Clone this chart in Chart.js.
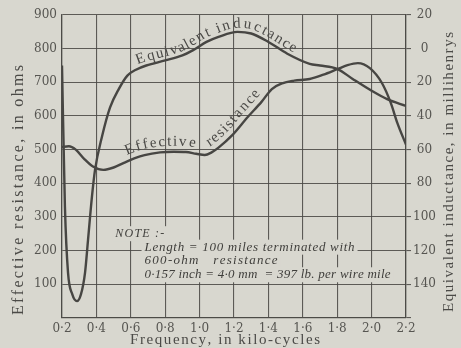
<!DOCTYPE html>
<html>
<head>
<meta charset="utf-8">
<script src="https://cdn.jsdelivr.net/npm/chart.js@4.4.1/dist/chart.umd.min.js"></script>
<style>
  html, body { margin: 0; padding: 0; background: #d8d7cf; }
  #wrap { width: 461px; height: 348px; }
  canvas { display: block; }
</style>
</head>
<body>
<div id="wrap"><canvas id="chart" width="461" height="348"></canvas></div>
<script>
// Frequency axis (kilo-cycles)
const freqTicks  = [0.2, 0.4, 0.6, 0.8, 1.0, 1.2, 1.4, 1.6, 1.8, 2.0, 2.2];
const freqLabels = ['0·2', '0·4', '0·6', '0·8', '1·0', '1·2', '1·4', '1·6', '1·8', '2·0', '2·2'];

// Left axis: effective resistance, ohms
const ohmTicks = [0, 100, 200, 300, 400, 500, 600, 700, 800, 900];
// Right axis: equivalent inductance, millihenrys
const mhTicks = [-160, -140, -120, -100, -80, -60, -40, -20, 0, 20];

// Effective resistance curve
const resistanceFreq = [0.2, 0.24, 0.28, 0.33, 0.38, 0.44, 0.5, 0.56, 0.62, 0.68, 0.77, 0.85, 0.92, 0.98, 1.03, 1.07, 1.11, 1.19, 1.28, 1.36, 1.42, 1.48, 1.55, 1.64, 1.72, 1.80, 1.86, 1.92, 1.99, 2.06, 2.11, 2.15, 2.2];
const resistanceOhms = [508, 510, 500, 472, 450, 440, 447, 461, 474, 484, 492, 494, 493, 488, 484, 492, 506, 543, 597, 642, 680, 697, 705, 710, 723, 739, 751, 757, 742, 698, 641, 579, 515];

// Equivalent inductance curve
const inductanceFreq = [0.2, 0.217, 0.235, 0.26, 0.287, 0.31, 0.334, 0.351, 0.374, 0.392, 0.433, 0.479, 0.53, 0.58, 0.63, 0.69, 0.8, 0.9, 0.96, 1.04, 1.11, 1.22, 1.3, 1.4, 1.51, 1.64, 1.70, 1.80, 1.89, 2.0, 2.09, 2.2];
const inductanceMH   = [-10, -94, -133, -146, -150, -146, -133, -114, -88, -72, -52, -35, -24, -16, -12.5, -10, -7, -4, -1, 4, 7, 10, 9, 4, -3, -9, -10, -12, -18, -25, -30, -34];

const noteLines = [
  'NOTE :-',
  'Length = 100 miles terminated with',
  '600-ohm   resistance',
  '0·157 inch = 4·0 mm  = 397 lb. per wire mile'
];

const paper = '#d8d7cf';
const ink = '#474643';
const gridInk = 'rgba(74,73,69,0.88)';
const labelInk = '#565551';
const serif = '"Liberation Serif", "DejaVu Serif", serif';

// Draw a string character by character, spreading it to a given width
function spacedText(ctx, text, x, y, width) {
  const chars = [...text];
  const w = chars.map(c => ctx.measureText(c).width);
  const total = w.reduce((a, b) => a + b, 0);
  const extra = chars.length > 1 ? (width - total) / (chars.length - 1) : 0;
  ctx.textAlign = 'left';
  let cx = x;
  chars.forEach((c, i) => { ctx.fillText(c, cx, y); cx += w[i] + extra; });
}

// Sample the drawn bezier path of a dataset into a dense polyline with arc length
function samplePath(meta) {
  const pts = meta.data;
  const out = [];
  for (let i = 0; i < pts.length - 1; i++) {
    const a = pts[i], b = pts[i + 1];
    const c1x = a.cp2x ?? a.x, c1y = a.cp2y ?? a.y;
    const c2x = b.cp1x ?? b.x, c2y = b.cp1y ?? b.y;
    for (let k = 0; k < 24; k++) {
      const t = k / 24, u = 1 - t;
      out.push({
        x: u*u*u*a.x + 3*u*u*t*c1x + 3*u*t*t*c2x + t*t*t*b.x,
        y: u*u*u*a.y + 3*u*u*t*c1y + 3*u*t*t*c2y + t*t*t*b.y
      });
    }
  }
  const last = pts[pts.length - 1];
  out.push({ x: last.x, y: last.y });
  let s = 0;
  out.forEach((p, i) => {
    if (i > 0) s += Math.hypot(p.x - out[i-1].x, p.y - out[i-1].y);
    p.s = s;
  });
  return out;
}

function arcAtX(path, x) {
  for (let i = 1; i < path.length; i++) {
    if (path[i].x >= x) {
      const p = path[i-1], q = path[i];
      const t = (x - p.x) / ((q.x - p.x) || 1);
      return p.s + t * (q.s - p.s);
    }
  }
  return path[path.length - 1].s;
}

function pointAtArc(path, s) {
  for (let i = 1; i < path.length; i++) {
    if (path[i].s >= s) {
      const p = path[i-1], q = path[i];
      const t = (s - p.s) / ((q.s - p.s) || 1);
      return { x: p.x + t * (q.x - p.x), y: p.y + t * (q.y - p.y) };
    }
  }
  const l = path[path.length - 1];
  return { x: l.x, y: l.y };
}

// Lettering that follows a curve between two horizontal pixel positions
function textOnCurve(ctx, path, text, x0, x1, offset) {
  const s0 = arcAtX(path, x0), s1 = arcAtX(path, x1);
  const chars = [...text];
  const w = chars.map(c => ctx.measureText(c).width);
  const total = w.reduce((a, b) => a + b, 0);
  const extra = (s1 - s0 - total) / (chars.length - 1);
  let s = s0;
  chars.forEach((c, i) => {
    const mid = s + w[i] / 2;
    const p = pointAtArc(path, mid);
    const pa = pointAtArc(path, mid - 4), pb = pointAtArc(path, mid + 4);
    const ang = Math.atan2(pb.y - pa.y, pb.x - pa.x);
    const nx = Math.sin(ang), ny = -Math.cos(ang);
    ctx.save();
    ctx.translate(p.x + nx * offset, p.y + ny * offset);
    ctx.rotate(ang);
    ctx.textAlign = 'center';
    ctx.textBaseline = 'alphabetic';
    ctx.fillText(c, 0, 0);
    ctx.restore();
    s += w[i] + extra;
  });
}

const decorations = {
  id: 'decorations',
  beforeDraw(chart) {
    const { ctx, width, height } = chart;
    ctx.save();
    ctx.fillStyle = paper;
    ctx.fillRect(0, 0, width, height);
    ctx.restore();
  },
  beforeDatasetsDraw(chart) {
    // note block, on a cleared patch of the grid
    const { ctx } = chart;
    const x = chart.scales.x, y = chart.scales.y;
    const left = x.getPixelForValue(0.68);
    const spec = [
      { x: x.getPixelForValue(0.51), y: y.getPixelForValue(240), w: 49, size: 12 },
      { x: left, y: y.getPixelForValue(200), w: 210, size: 13 },
      { x: left, y: y.getPixelForValue(160), w: 133, size: 13 },
      { x: left, y: y.getPixelForValue(118), w: 246, size: 13 }
    ];
    ctx.save();
    ctx.fillStyle = paper;
    spec.forEach(s => ctx.fillRect(s.x - 3, s.y - 11, s.w + 6, 15));
    ctx.fillStyle = '#3f3e3b';
    ctx.textBaseline = 'alphabetic';
    spec.forEach((s, i) => {
      ctx.font = `italic ${s.size}px ${serif}`;
      spacedText(ctx, noteLines[i], s.x, s.y, s.w);
    });
    ctx.restore();
  },
  afterDatasetsDraw(chart) {
    const { ctx } = chart;
    ctx.save();
    ctx.fillStyle = '#4a4946';
    ctx.font = `15px ${serif}`;
    const ind = samplePath(chart.getDatasetMeta(1));
    textOnCurve(ctx, ind, 'Equivalent inductance', 139, 292, 4);
    const res = samplePath(chart.getDatasetMeta(0));
    textOnCurve(ctx, res, 'Effective', 129, 194, 6);
    textOnCurve(ctx, res, 'resistance', 213, 265, 6);

    // axis titles
    ctx.fillStyle = '#4b4a47';
    ctx.textBaseline = 'middle';
    ctx.font = `16px ${serif}`;
    ctx.save();
    ctx.translate(19, 190);
    ctx.rotate(-Math.PI / 2);
    spacedText(ctx, 'Effective resistance, in ohms', -125, 0, 250);
    ctx.restore();

    ctx.font = `15px ${serif}`;
    ctx.save();
    ctx.translate(449, 172);
    ctx.rotate(-Math.PI / 2);
    spacedText(ctx, 'Equivalent inductance, in millihenrys', -140, 0, 280);
    ctx.restore();

    spacedText(ctx, 'Frequency, in kilo-cycles', 130, 340, 190);
    ctx.restore();
  }
};

const tickFont = { family: '"DejaVu Serif", serif', size: 12 };

new Chart(document.getElementById('chart'), {
  type: 'line',
  data: {
    datasets: [
      {
        label: 'Effective resistance',
        yAxisID: 'y',
        data: resistanceFreq.map((f, i) => ({ x: f, y: resistanceOhms[i] })),
        borderColor: ink,
        borderWidth: 2.4,
        pointRadius: 0,
        fill: false,
        cubicInterpolationMode: 'monotone'
      },
      {
        label: 'Equivalent inductance',
        yAxisID: 'y1',
        data: inductanceFreq.map((f, i) => ({ x: f, y: inductanceMH[i] })),
        borderColor: ink,
        borderWidth: 2.4,
        pointRadius: 0,
        fill: false,
        cubicInterpolationMode: 'monotone'
      }
    ]
  },
  options: {
    responsive: false,
    animation: false,
    devicePixelRatio: 1,
    layout: { padding: { top: 15, left: 0, right: 0, bottom: 0 } },
    plugins: { legend: { display: false }, tooltip: { enabled: false }, title: { display: false } },
    scales: {
      x: {
        type: 'linear',
        position: 'bottom',
        min: 0.2,
        max: 2.2,
        afterBuildTicks: s => { s.ticks = freqTicks.map(v => ({ value: v })); },
        afterFit: s => { s.height = 30; },
        ticks: {
          font: tickFont,
          color: labelInk,
          padding: 4,
          maxRotation: 0,
          autoSkip: false,
          callback: v => freqLabels[freqTicks.findIndex(t => Math.abs(t - v) < 1e-6)]
        },
        grid: { color: gridInk, lineWidth: 1.1, drawTicks: false },
        border: { display: true, color: gridInk, width: 1.3 }
      },
      y: {
        type: 'linear',
        position: 'left',
        min: 0,
        max: 900,
        afterBuildTicks: s => { s.ticks = ohmTicks.map(v => ({ value: v })); },
        afterFit: s => { s.width = 62; },
        ticks: {
          font: tickFont,
          color: labelInk,
          padding: 5,
          autoSkip: false,
          callback: v => (v === 0 ? '' : String(v))
        },
        grid: { color: gridInk, lineWidth: 1.1, drawTicks: false },
        border: { display: true, color: gridInk, width: 1.3 }
      },
      y1: {
        type: 'linear',
        position: 'right',
        min: -160,
        max: 20,
        afterBuildTicks: s => { s.ticks = mhTicks.map(v => ({ value: v })); },
        afterFit: s => { s.width = 55; },
        ticks: {
          font: tickFont,
          color: labelInk,
          padding: 2,
          crossAlign: 'center',
          autoSkip: false,
          callback: v => (v === -160 ? '' : String(Math.abs(v)))
        },
        grid: { drawOnChartArea: false, drawTicks: true, tickLength: 5, color: gridInk, lineWidth: 1.1 },
        border: { display: true, color: gridInk, width: 1.3 }
      }
    }
  },
  plugins: [decorations]
});
</script>
</body>
</html>
